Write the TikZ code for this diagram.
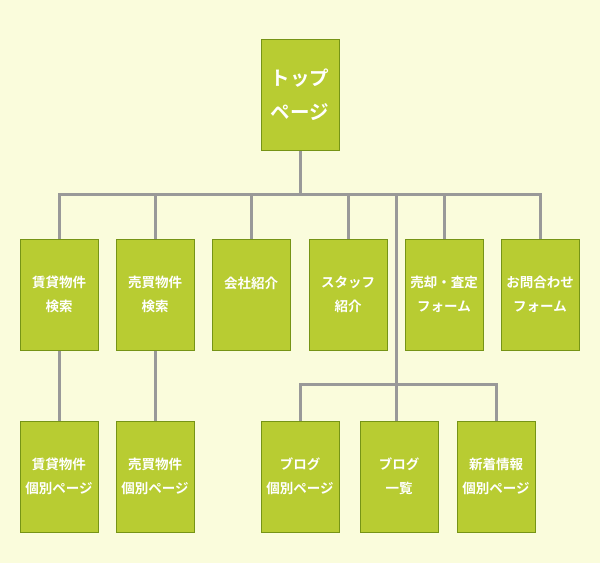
\documentclass[tikz,border=0pt]{standalone}
\usepackage{fontspec}
\newfontfamily\cjk{Noto Sans CJK JP Bold}
\definecolor{bgyellow}{RGB}{250,252,220}
\definecolor{boxgreen}{RGB}{184,204,50}
\definecolor{boxline}{RGB}{118,148,22}
\definecolor{linkgray}{RGB}{153,153,153}

\tikzset{
  page/.style={draw=boxline, fill=boxgreen, line width=1pt,
    minimum width=78pt, minimum height=111pt, inner sep=0pt,
    align=center, text=white, font=\cjk\fontsize{13.5}{24}\selectfont,
    execute at begin node={\rule{0pt}{17pt}}},
  toppage/.style={page, font=\cjk\fontsize{19.5}{34}\selectfont,
    execute at begin node={}},
  link/.style={draw=linkgray, line width=3pt},
}

\begin{document}
\begin{tikzpicture}[x=1pt,y=-1pt]
        \fill[bgyellow] (0,0) rectangle (600,563);
        % top
        \node[toppage] (top) at (300,94.5) {トップ\\ページ};
        % second level
        \node[page] (chintai)  at (59,294.5)  {賃貸物件\\検索};
        \node[page] (baibai)   at (155,294.5) {売買物件\\検索};
        \node[page] (kaisha)   at (251,294.5) {会社紹介\\\mbox{}};
        \node[page] (staff)    at (348,294.5) {スタッフ\\紹介};
        \node[page] (satei)    at (444,294.5) {売却・査定\\フォーム};
        \node[page] (toiawase) at (540,294.5) {お問合わせ\\フォーム};
        % third level
        \node[page] (chintaikobetsu) at (59,476.5)  {賃貸物件\\個別ページ};
        \node[page] (baibaikobetsu)  at (155,476.5) {売買物件\\個別ページ};
        \node[page] (blogkobetsu)    at (300,476.5) {ブログ\\個別ページ};
        \node[page] (blogichiran)    at (399,476.5) {ブログ\\一覧};
        \node[page] (shinchaku)      at (496,476.5) {新着情報\\個別ページ};
        % links
        \coordinate (bus) at (300,194);
        \coordinate (branch) at (396,194);
        \coordinate (blogbus) at (396,384);
        \draw[link] (top.south) -- (bus);
        \foreach \p in {chintai,baibai,kaisha,staff,satei,toiawase}
          \draw[link] (bus) -| (\p.north);
        \draw[link] (chintai.south) -- (chintaikobetsu.north);
        \draw[link] (baibai.south) -- (baibaikobetsu.north);
        \draw[link] (branch) -- (blogbus);
        \draw[link] (blogbus) -- (blogbus |- blogichiran.north);
        \draw[link] (blogbus) -| (blogkobetsu.north);
        \draw[link] (blogbus) -| (shinchaku.north);
\end{tikzpicture}
\end{document}
